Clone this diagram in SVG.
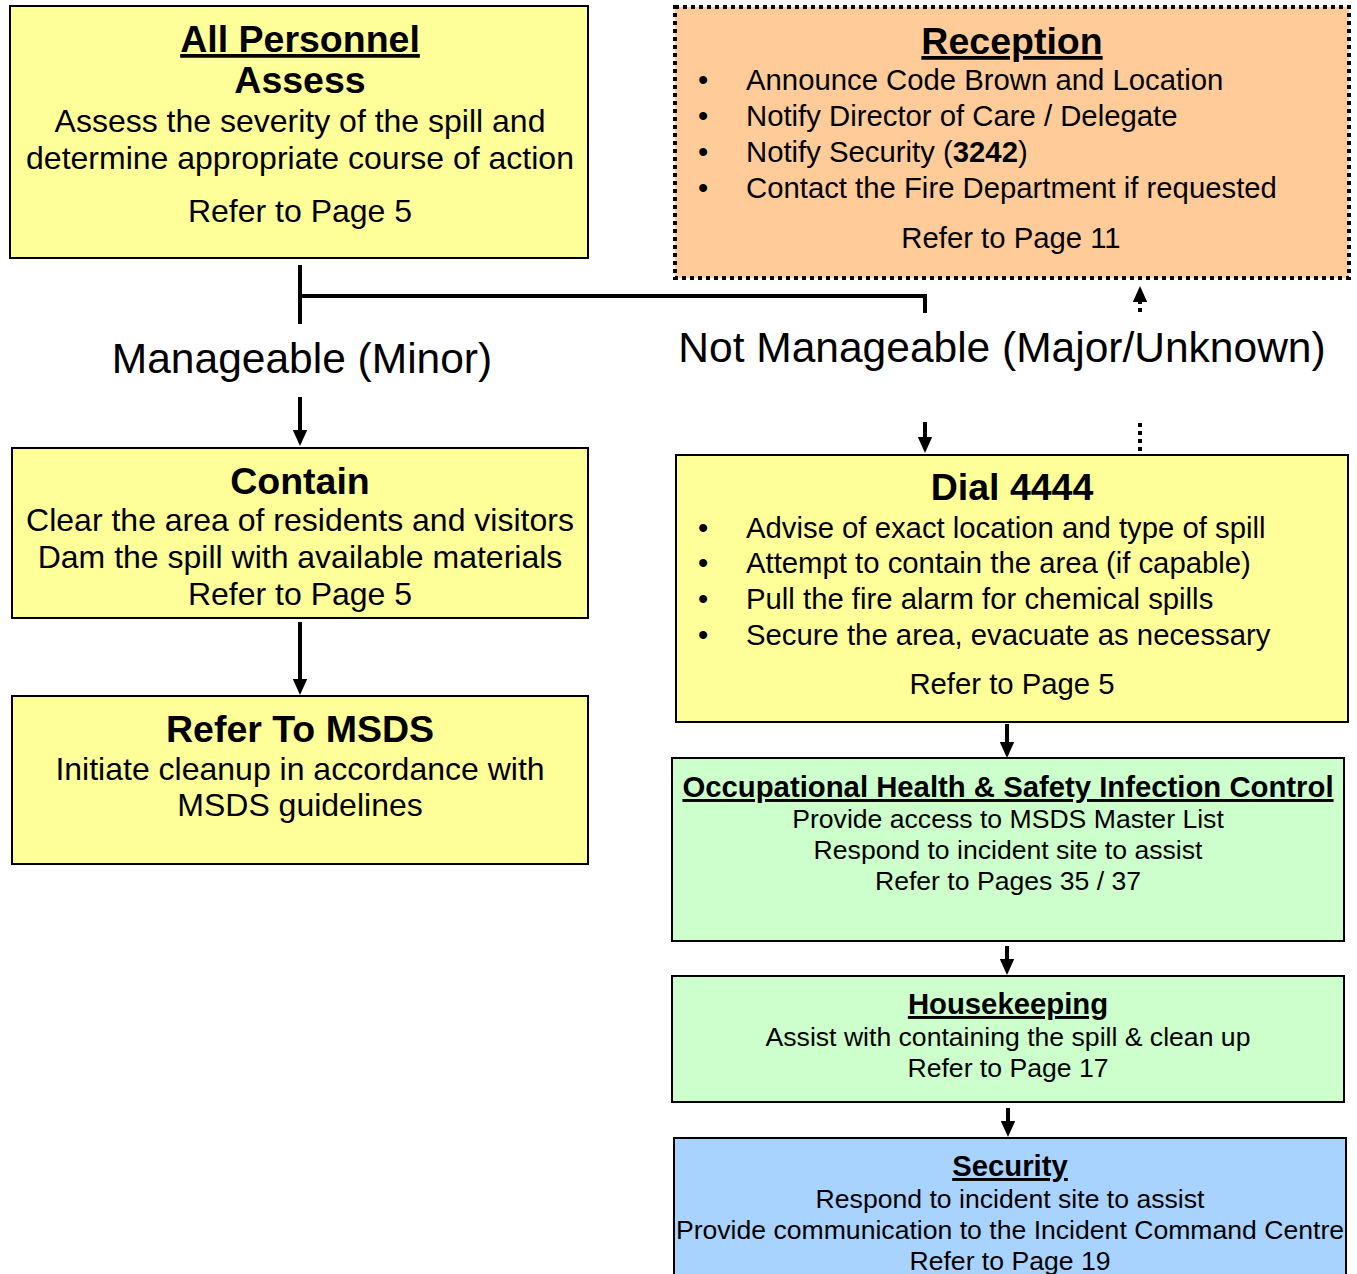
<svg xmlns="http://www.w3.org/2000/svg" width="1357" height="1274" viewBox="0 0 1357 1274">
<style>
text{font-family:"Liberation Sans",Arial,sans-serif;fill:#000}
.t{font-weight:bold;font-size:37.5px;text-anchor:middle}
.u{text-decoration:underline}
.b{font-size:32px;text-anchor:middle}
.r{font-size:29.3px}
.rc{font-size:29.3px;text-anchor:middle}
.s{font-weight:bold;font-size:29.3px;text-anchor:middle}
.m{font-size:26.6px;text-anchor:middle}
.big{font-size:42.5px;text-anchor:middle}
.box{stroke:#000;stroke-width:2}
.yel{fill:#FFFF99}
.grn{fill:#CCFFCC}
.blu{fill:#A9D3FF}
.ln{stroke:#000;stroke-width:4;fill:none}
</style>
<defs>
<marker id="ah" markerWidth="4" markerHeight="4" refX="2" refY="2" orient="auto" markerUnits="strokeWidth" viewBox="0 0 4 4"><path d="M0,0.2 L4,2 L0,3.8 Z" fill="#000"/></marker>
</defs>
<g id="connectors">
<line class="ln" x1="300" y1="265" x2="300" y2="324"/>
<polyline class="ln" points="300,296 925,296 925,313"/>
<line class="ln" x1="300" y1="397" x2="300" y2="438" marker-end="url(#ah)"/>
<line class="ln" x1="925" y1="422" x2="925" y2="445" marker-end="url(#ah)"/>
<line class="ln" x1="1140" y1="423" x2="1140" y2="455" stroke-dasharray="4,4"/>
<line class="ln" x1="1140" y1="312" x2="1140" y2="294" stroke-dasharray="4,4" marker-end="url(#ah)"/>
<line class="ln" x1="300" y1="622" x2="300" y2="687" marker-end="url(#ah)"/>
<line class="ln" x1="1007" y1="724" x2="1007" y2="750" marker-end="url(#ah)"/>
<line class="ln" x1="1007" y1="946" x2="1007" y2="967" marker-end="url(#ah)"/>
<line class="ln" x1="1008" y1="1108" x2="1008" y2="1129" marker-end="url(#ah)"/>
</g>
<g id="all-personnel">
<rect class="box yel" x="10" y="6" width="578" height="252"/>
<text class="t u" x="300" y="52">All Personnel</text>
<text class="t" x="300" y="93">Assess</text>
<text class="b" x="300" y="132">Assess the severity of the spill and</text>
<text class="b" x="300" y="169">determine appropriate course of action</text>
<text class="b" x="300" y="222">Refer to Page 5</text>
</g>
<g id="reception">
<rect x="675" y="7" width="674" height="271" fill="#FFCC99" stroke="#000" stroke-width="4" stroke-dasharray="4,4"/>
<text class="t u" x="1012" y="54">Reception</text>
<g class="r">
<text x="698" y="90">•</text><text x="746" y="90">Announce Code Brown and Location</text>
<text x="698" y="126">•</text><text x="746" y="126">Notify Director of Care / Delegate</text>
<text x="698" y="162">•</text><text x="746" y="162">Notify Security (<tspan font-weight="bold">3242</tspan>)</text>
<text x="698" y="198">•</text><text x="746" y="198">Contact the Fire Department if requested</text>
</g>
<text class="rc" x="1011" y="248">Refer to Page 11</text>
</g>
<g id="labels">
<text class="big" x="302" y="373">Manageable (Minor)</text>
<text class="big" x="1002" y="362">Not Manageable (Major/Unknown)</text>
</g>
<g id="contain">
<rect class="box yel" x="12" y="448" width="576" height="170"/>
<text class="t" x="300" y="494">Contain</text>
<text class="b" x="300" y="531">Clear the area of residents and visitors</text>
<text class="b" x="300" y="568">Dam the spill with available materials</text>
<text class="b" x="300" y="605">Refer to Page 5</text>
</g>
<g id="msds">
<rect class="box yel" x="12" y="696" width="576" height="168"/>
<text class="t" x="300" y="742">Refer To MSDS</text>
<text class="b" x="300" y="780">Initiate cleanup in accordance with</text>
<text class="b" x="300" y="816">MSDS guidelines</text>
</g>
<g id="dial">
<rect class="box yel" x="676" y="455" width="672" height="267"/>
<text class="t" x="1012" y="500">Dial 4444</text>
<g class="r">
<text x="698" y="538">•</text><text x="746" y="538">Advise of exact location and type of spill</text>
<text x="698" y="573">•</text><text x="746" y="573">Attempt to contain the area (if capable)</text>
<text x="698" y="609">•</text><text x="746" y="609">Pull the fire alarm for chemical spills</text>
<text x="698" y="645">•</text><text x="746" y="645">Secure the area, evacuate as necessary</text>
</g>
<text class="rc" x="1012" y="694">Refer to Page 5</text>
</g>
<g id="ohs">
<rect class="box grn" x="672" y="758" width="672" height="183"/>
<text class="s u" x="1008" y="797">Occupational Health &amp; Safety Infection Control</text>
<text class="m" x="1008" y="828">Provide access to MSDS Master List</text>
<text class="m" x="1008" y="859">Respond to incident site to assist</text>
<text class="m" x="1008" y="890">Refer to Pages 35 / 37</text>
</g>
<g id="housekeeping">
<rect class="box grn" x="672" y="976" width="672" height="126"/>
<text class="s u" x="1008" y="1014">Housekeeping</text>
<text class="m" x="1008" y="1046">Assist with containing the spill &amp; clean up</text>
<text class="m" x="1008" y="1077">Refer to Page 17</text>
</g>
<g id="security">
<rect class="box blu" x="674" y="1138" width="672" height="140"/>
<text class="s u" x="1010" y="1176">Security</text>
<text class="m" x="1010" y="1208">Respond to incident site to assist</text>
<text class="m" x="1010" y="1239">Provide communication to the Incident Command Centre</text>
<text class="m" x="1010" y="1270">Refer to Page 19</text>
</g>
</svg>
